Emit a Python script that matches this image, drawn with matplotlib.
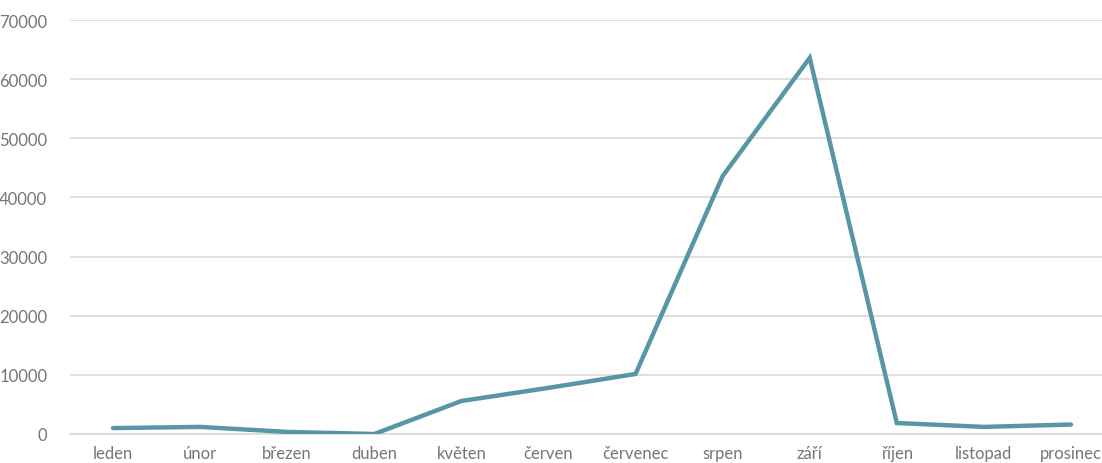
import numpy as np
import matplotlib
matplotlib.use("Agg")
from matplotlib import pyplot as plt

months = ['leden', 'únor', 'březen', 'duben', 'květen', 'červen',
          'červenec', 'srpen', 'září', 'říjen', 'listopad', 'prosinec']
values = [1000, 1200, 350, 0, 5580, 7800, 10150, 43600, 63600, 1860, 1200, 1600]
yticks = [0, 10000, 20000, 30000, 40000, 50000, 60000, 70000]

plt.rcParams['font.family'] = ['Lato', 'DejaVu Sans']

W, H = 1102, 464
fig = plt.figure(figsize=(W / 100, H / 100), dpi=100)
# the category axis runs a little past the right edge of the picture
ax = fig.add_axes([69.5 / W, 1 - 435 / H, 1045 / W, (435 - 21) / H])

x = np.arange(len(months))
ax.plot(x, values, color='#5896a6', lw=3.2, solid_capstyle='round', solid_joinstyle='miter', zorder=3)

ax.set_xlim(-0.5, 11.5)
ax.set_ylim(0, 70000)
ax.set_yticks(yticks)
ax.set_yticklabels([str(t) for t in yticks])
ax.set_xticks(x)
ax.set_xticklabels(months)
ax.grid(axis='y', color='#d9d9d9', lw=1.2)
ax.axhline(0, color='#d9d9d9', lw=1.2, clip_on=False, zorder=1)
ax.set_axisbelow(True)
for s in ax.spines.values():
    s.set_visible(False)
ax.tick_params(axis='both', length=0, colors='#767676', labelsize=12)
ax.tick_params(axis='y', pad=16)
ax.tick_params(axis='x', pad=8)

fig.savefig('out.png', dpi=100)
